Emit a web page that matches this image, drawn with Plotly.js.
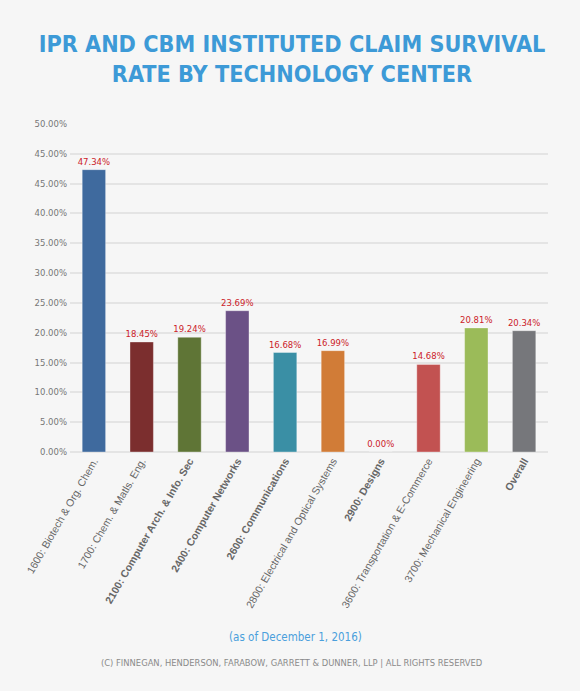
<!DOCTYPE html>
<html>
<head>
<meta charset="utf-8">
<script src="https://cdn.plot.ly/plotly-3.0.1.min.js"></script>
<style>
  html, body { margin: 0; padding: 0; background: #f6f6f6; }
  #chart { width: 580px; height: 691px; }
</style>
</head>
<body>
<div id="chart"></div>
<script>
// ---- data ----
const categories = [
  "1600: Biotech & Org. Chem.",
  "1700: Chem. & Matls. Eng.",
  "2100: Computer Arch. & Info. Sec",
  "2400: Computer Networks",
  "2600: Communications",
  "2800: Electrical and Optical Systems",
  "2900: Designs",
  "3600: Transportation & E-Commerce",
  "3700: Mechanical Engineering",
  "Overall"
];
const survivalRates = [47.34, 18.45, 19.24, 23.69, 16.68, 16.99, 0.00, 14.68, 20.81, 20.34];
const yTickValues = [0, 5, 10, 15, 20, 25, 30, 35, 40, 45, 50, 55];
const yTickLabels = ["0.00%", "5.00%", "10.00%", "15.00%", "20.00%", "25.00%", "30.00%",
                     "35.00%", "40.00%", "45.00%", "45.00%", "50.00%"];
const boldCategories = [2, 3, 4, 6, 9];

// ---- styles ----
const barColors = ["#3f6a9e", "#7b2e2e", "#5f7536", "#6b5186", "#3a8fa5",
                   "#d17c37", "#888888", "#c25251", "#9bbb59", "#76777b"];
const condensed = "DejaVu Sans Condensed, Open Sans, sans-serif";
const W = 580, H = 691;
const margin = {l: 70, r: 32, t: 124, b: 239};
const plotH = H - margin.t - margin.b;
function paperY(px) { return (H - margin.b - px) / plotH; }

const tickText = categories.map((c, i) => boldCategories.includes(i) ? "<b>" + c + "</b>" : c);

const trace = {
  type: "bar",
  x: categories,
  y: survivalRates,
  text: survivalRates.map(v => v.toFixed(2) + "%"),
  textposition: "outside",
  constraintext: "none",
  cliponaxis: false,
  textfont: {family: "DejaVu Sans", size: 8.5, color: "#cc2229"},
  marker: {color: barColors, line: {color: "rgba(255,255,255,0.35)", width: 1}},
  hoverinfo: "none"
};

const layout = {
  width: W, height: H,
  margin: margin,
  paper_bgcolor: "#f6f6f6",
  plot_bgcolor: "#f6f6f6",
  showlegend: false,
  bargap: 0.51,
  title: {
    text: "IPR AND CBM INSTITUTED CLAIM SURVIVAL<br>RATE BY TECHNOLOGY CENTER",
    font: {family: condensed, size: 23.2, color: "#3d9ad7", weight: "bold", stretch: "condensed"},
    x: 292 / W, xanchor: "center", xref: "container",
    y: 0.925, yanchor: "top"
  },
  xaxis: {
    type: "category",
    tickmode: "array",
    tickvals: categories,
    ticktext: tickText,
    tickangle: -60,
    tickfont: {family: "Liberation Sans", size: 10.5, color: "#666666"},
    showgrid: false,
    zeroline: false,
    showline: false,
    ticks: ""
  },
  yaxis: {
    range: [0, 55],
    tickmode: "array",
    tickvals: yTickValues,
    ticktext: yTickLabels,
    tickfont: {family: "DejaVu Sans", size: 8.5, color: "#777777"},
    showgrid: true,
    gridcolor: "#e4e4e4",
    gridwidth: 2,
    zeroline: true,
    zerolinecolor: "#e4e4e4",
    zerolinewidth: 2,
    showline: false,
    ticks: "",
    ticklabelstandoff: 2
  },
  annotations: [
    {
      text: "(as of December 1, 2016)",
      xref: "paper", yref: "paper",
      x: (295 - margin.l) / (W - margin.l - margin.r), y: paperY(637),
      xanchor: "center", yanchor: "middle",
      showarrow: false,
      font: {family: condensed, size: 11.5, color: "#4a9fdc", stretch: "condensed"}
    },
    {
      text: "(C) FINNEGAN, HENDERSON, FARABOW, GARRETT &amp; DUNNER, LLP | ALL RIGHTS RESERVED",
      xref: "paper", yref: "paper",
      x: (291 - margin.l) / (W - margin.l - margin.r), y: paperY(663),
      xanchor: "center", yanchor: "middle",
      showarrow: false,
      font: {family: "DejaVu Sans", size: 8.4, color: "#8a8a8a"}
    }
  ]
};

Plotly.newPlot("chart", [trace], layout, {displayModeBar: false, staticPlot: true});
</script>
</body>
</html>
